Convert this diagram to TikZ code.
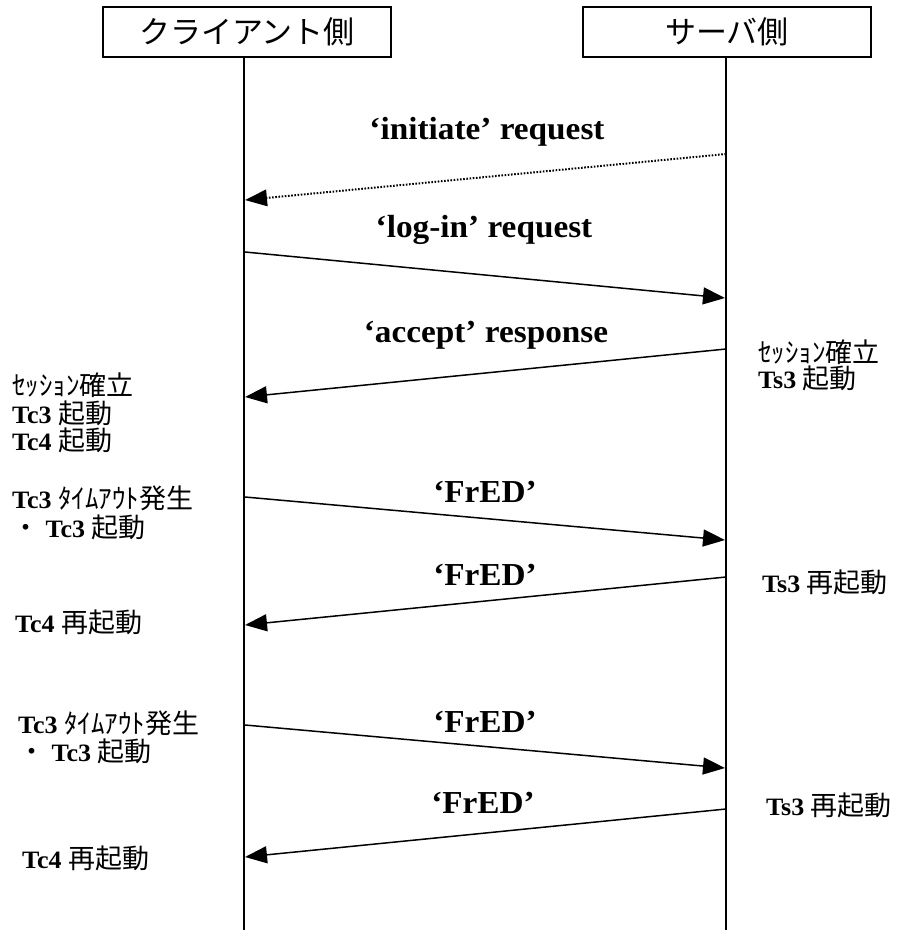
\documentclass[tikz,border=0pt]{standalone}
\usepackage{fontspec}
\setmainfont[FakeStretch=1.04]{Liberation Serif}
\newfontfamily\jpfont{Noto Sans CJK JP}
\usetikzlibrary{arrows.meta}
\newcommand\J[1]{{\jpfont\mdseries\fontsize{27}{27}\selectfont #1}}
\begin{document}
\begin{tikzpicture}[x=1pt,y=-1pt,
  hdr/.style={draw,line width=2pt,minimum width=288pt,minimum height=50pt,inner sep=0pt,font=\jpfont\fontsize{31}{31}\selectfont},
  life/.style={line width=2pt},
  msg/.style={line width=1.5pt,-{Triangle[length=22pt,width=17pt]}},
  dots/.style={line width=2pt,dash pattern=on 1.6pt off 1.6pt,-{Triangle[length=22pt,width=17pt,line width=0pt]}},
  lbl/.style={font=\bfseries\fontsize{32}{32}\selectfont,inner sep=0pt},
  note/.style={anchor=west,inner sep=0pt,font=\bfseries\fontsize{25}{25}\selectfont}]
\useasboundingbox (0,0) rectangle (904,930);
\node[hdr] (C) at (247,32) {クライアント側};
\node[hdr] (S) at (727,32) {サーバ側};
\coordinate (Cb) at (244,930);
\coordinate (Sb) at (726,930);
\draw[life] (C.south -| Cb) -- (Cb);
\draw[life] (S.south -| Sb) -- (Sb);
% message end points
\coordinate (s1) at (726,154); \coordinate (c1) at (245,200);
\coordinate (c2) at (245,252); \coordinate (s2) at (725,298);
\coordinate (s3) at (726,349); \coordinate (c3) at (245,397);
\coordinate (c4) at (245,497); \coordinate (s4) at (725,540);
\coordinate (s5) at (726,577); \coordinate (c5) at (245,625);
\coordinate (c6) at (245,725); \coordinate (s6) at (725,768);
\coordinate (s7) at (726,809); \coordinate (c7) at (245,857);
\draw[dots] (s1) -- (c1);
\draw[msg] (c2) -- (s2);
\draw[msg] (s3) -- (c3);
\draw[msg] (c4) -- (s4);
\draw[msg] (s5) -- (c5);
\draw[msg] (c6) -- (s6);
\draw[msg] (s7) -- (c7);
% message labels
\node[lbl] (m1) at (487,132) {‘initiate’ request};
\node[lbl] (m2) at (484,230) {‘log-in’ request};
\node[lbl] (m3) at (486,335) {‘accept’ response};
\node[lbl] (m4) at (485,492) {‘FrED’};
\node[lbl] (m5) at (485,575) {‘FrED’};
\node[lbl] (m6) at (485,722) {‘FrED’};
\node[lbl] (m7) at (483,803) {‘FrED’};
% client notes
\node[note] (a1) at (12,385) {\J{ｾｯｼｮﾝ確立}};
\node[note] (a2) at (12,413) {Tc3 \J{起動}};
\node[note] (a3) at (12,440) {Tc4 \J{起動}};
\node[note] (a4) at (12,498) {Tc3 \J{ﾀｲﾑｱｳﾄ発生}};
\node[note] (a5) at (12,527) {\J{・} Tc3 \J{起動}};
\node[note] (a6) at (15,622) {Tc4 \J{再起動}};
\node[note] (a7) at (18,723) {Tc3 \J{ﾀｲﾑｱｳﾄ発生}};
\node[note] (a8) at (18,751) {\J{・} Tc3 \J{起動}};
\node[note] (a9) at (22,858) {Tc4 \J{再起動}};
% server notes
\node[note] (b1) at (758,352) {\J{ｾｯｼｮﾝ確立}};
\node[note] (b2) at (758,378) {Ts3 \J{起動}};
\node[note] (b3) at (762,582) {Ts3 \J{再起動}};
\node[note] (b4) at (766,805) {Ts3 \J{再起動}};
\end{tikzpicture}
\end{document}
